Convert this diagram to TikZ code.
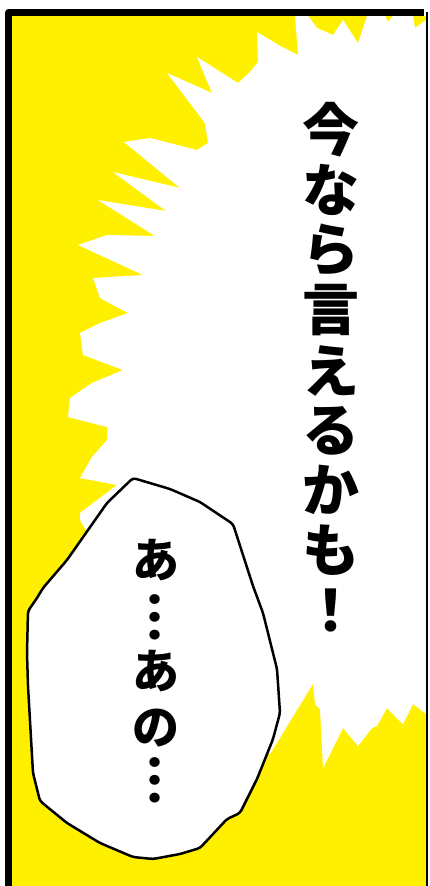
\documentclass[tikz,border=0pt]{standalone}
\usepackage{fontspec}
\usepackage{graphicx}
\newfontfamily\jpfont{Noto Sans CJK JP}
\definecolor{panelyellow}{RGB}{255,240,0}
\newcommand\tatedots{\rotatebox{-90}{…}}

\begin{document}
\begin{tikzpicture}[x=1pt, y=-1pt,
        burst/.style={fill=white},
        bubble/.style={fill=white, draw=black, line width=2.5pt, line join=round, rounded corners=3pt},
        frame/.style={draw=black, line width=6.5pt, line join=round},
        shout/.style={font=\jpfont\bfseries\fontsize{57}{60}\selectfont, inner sep=0pt},
        mumble/.style={font=\jpfont\bfseries\fontsize{47}{52}\selectfont, inner sep=0pt}
    ]
        \useasboundingbox (0,0) rectangle (429,886);

        % Panel background
        \fill[panelyellow] (12,16) rectangle (426,886);

        % Burst behind the shout
        \fill[burst] (295,16) -- (308,16) -- (317,28) -- (333,35) -- (343,20) -- (358,43) -- (367,16)
            -- (385,16) -- (388,22) -- (393,16) -- (413,16) -- (415,28) -- (426,20) -- (426,714)
            -- (413,704) -- (403,724) -- (387,708) -- (377,726) -- (372,728) -- (358,746) -- (343,728)
            -- (323,768) -- (320,709) -- (315,704) -- (313,684) -- (270,754) -- (200,720) -- (80,520)
            -- (80,513) -- (117,485) -- (80,478) -- (92,457) -- (107,440) -- (107,427) -- (68,417)
            -- (70,398) -- (92,383) -- (123,370) -- (83,355) -- (80,333) -- (100,323) -- (128,313)
            -- (100,298) -- (93,278) -- (143,275) -- (78,245) -- (107,235) -- (155,236) -- (98,200)
            -- (166,211) -- (113,172) -- (180,188) -- (124,142) -- (150,138) -- (197,150) -- (208,143)
            -- (205,123) -- (167,73) -- (212,93) -- (197,57) -- (238,83) -- (250,72) -- (258,62)
            -- (257,32) -- (282,47) -- (298,55) -- cycle;

        % Speech bubble
        \draw[bubble] (133,478) -- (170,489) -- (200,502) -- (233,524) -- (253,586) -- (263,613)
            -- (277,669) -- (280,713) -- (273,739) -- (257,779) -- (240,813) -- (227,819) -- (200,848)
            -- (180,854) -- (153,859) -- (133,857) -- (100,843) -- (67,823) -- (40,801) -- (33,773)
            -- (28,686) -- (27,653) -- (28,611) -- (37,598) -- (43,588) -- (67,560) -- (107,503) -- cycle;

        % Frame
        \draw[frame] (8.5,886) -- (8.5,12.5) -- (424,12.5);
        \draw[line width=2pt] (427,12) -- (427,886);

        % Shout
        \node[shout] (shout1) at (331,130) {今};
        \node[shout] (shout2) at (331,190) {な};
        \node[shout] (shout3) at (331,250) {ら};
        \node[shout] (shout4) at (331,310) {言};
        \node[shout] (shout5) at (331,371) {え};
        \node[shout] (shout6) at (331,431) {る};
        \node[shout] (shout7) at (331,490) {か};
        \node[shout] (shout8) at (331,550) {も};
        \node[shout] (shout9) at (331,611) {！};

        % Bubble text
        \node[mumble] (mumble1) at (156,560) {あ};
        \node[mumble] (mumble2) at (155,617) {\tatedots};
        \node[mumble] (mumble3) at (156,671) {あ};
        \node[mumble] (mumble4) at (156,728) {の};
        \node[mumble] (mumble5) at (155,780) {\tatedots};

\end{tikzpicture}
\end{document}
